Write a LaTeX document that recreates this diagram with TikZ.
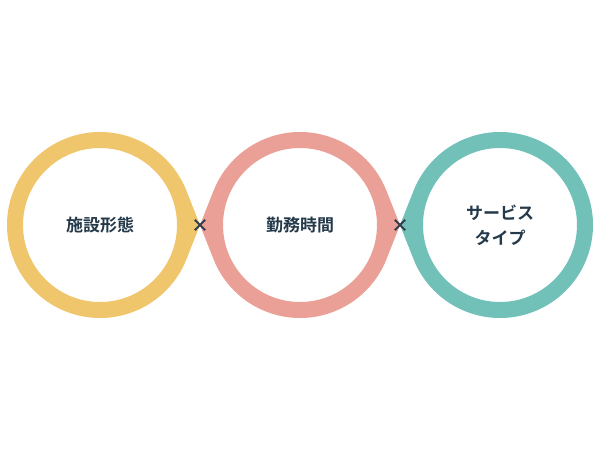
\documentclass[tikz,border=0pt]{standalone}
\usepackage{fontspec}
\newfontfamily\jp{Noto Sans CJK JP}[BoldFont={* Bold}]
\definecolor{ringY}{HTML}{EFC66B}
\definecolor{ringP}{HTML}{EAA096}
\definecolor{ringT}{HTML}{72C1B9}
\definecolor{txt}{HTML}{24394A}
\definecolor{xmark}{HTML}{333F4B}
\tikzset{
  lbl/.style={font=\jp\bfseries\fontsize{17}{25}\selectfont, text=txt, align=center, inner sep=0pt},
  xm/.style={minimum size=10pt, inner sep=0pt},
  xl/.style={draw=xmark, line width=1.8pt}
}
\begin{document}
\begin{tikzpicture}[x=1pt,y=1pt]
\useasboundingbox (0,0) rectangle (600,450);
\def\R{93}\def\r{77}\def\ta{21.57}
% yellow ring
\fill[ringY, even odd rule] (200,225) -- ([shift={(100,225)}]\ta:\R) arc[start angle=\ta, end angle=360-\ta, radius=\R] -- cycle
  (100,225) circle[radius=\r];
% pink ring
\fill[ringP, even odd rule] (400,225) -- ([shift={(300,225)}]\ta:\R) arc[start angle=\ta, end angle=180-\ta, radius=\R] -- (200,225)
  -- ([shift={(300,225)}]180+\ta:\R) arc[start angle=180+\ta, end angle=360-\ta, radius=\R] -- cycle
  (300,225) circle[radius=\r];
% teal ring
\fill[ringT, even odd rule] (400,225) -- ([shift={(500,225)}]180+\ta:\R) arc[start angle=180+\ta, end angle=540-\ta, radius=\R] -- cycle
  (500,225) circle[radius=\r];
\node[lbl] (a) at (100,225) {施設形態};
\node[lbl] (b) at (300,225) {勤務時間};
\node[lbl] (c) at (500,225) {サービス\\タイプ};
\node[xm] (x1) at (200,225) {};
\node[xm] (x2) at (400,225) {};
\foreach \n in {x1,x2}{
  \draw[xl] (\n.north west) -- (\n.south east);
  \draw[xl] (\n.north east) -- (\n.south west);
}
\end{tikzpicture}
\end{document}
